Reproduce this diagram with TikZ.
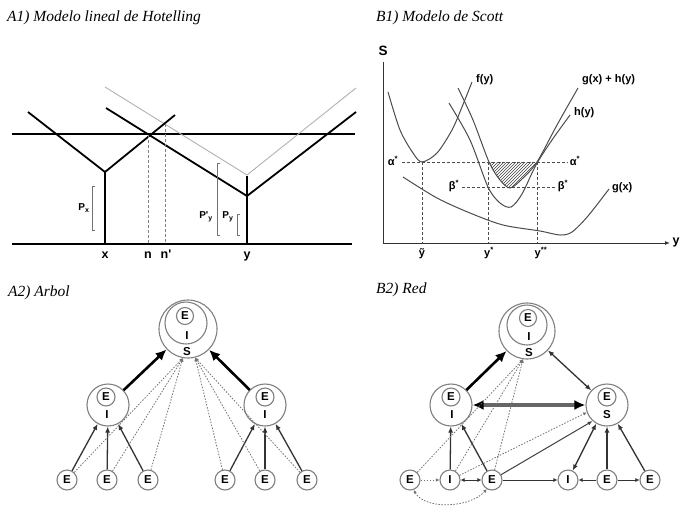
\documentclass[tikz,border=0pt]{standalone}
\usepackage{fontspec}
\setmainfont{Liberation Serif}
\newfontfamily\lsans{Liberation Sans}
\usetikzlibrary{arrows.meta,patterns}
\begin{document}
\begin{tikzpicture}[x=1pt,y=-1pt,
  title/.style={anchor=base west, inner sep=0, font=\fontsize{15.5}{18}\selectfont\itshape},
  lbl/.style={inner sep=0, font=\lsans\bfseries\fontsize{11}{12}\selectfont},
  axlbl/.style={inner sep=0, font=\lsans\bfseries\fontsize{12.5}{13}\selectfont},
  plbl/.style={inner sep=0, font=\lsans\bfseries\fontsize{10}{11}\selectfont},
  hot/.style={line width=1.8pt, black},
  hotgray/.style={line width=0.9pt, black!30},
  vdash/.style={dash pattern=on 3pt off 2pt, black!50, line width=0.6pt},
  brk/.style={black!55, line width=0.8pt},
  curve/.style={line width=1pt, black!70},
  hdash/.style={dash pattern=on 3pt off 2pt, black!70, line width=0.7pt},
  ring/.style={circle, draw=black!50, line width=1.1pt, inner sep=0},
  enode/.style={circle, draw=black!50, line width=1.1pt, inner sep=0, minimum size=20pt, font=\lsans\bfseries\fontsize{11.5}{12}\selectfont},
  let/.style={inner sep=0, font=\lsans\bfseries\fontsize{11.5}{12}\selectfont},
  bigarrow/.style={line width=2.6pt, black, -{Latex[length=11pt,width=10pt]}},
  midarrow/.style={line width=1.3pt, black!80, -{Latex[length=6pt,width=5pt]}},
  dotarrow/.style={line width=0.8pt, black!55, dash pattern=on 1.5pt off 1.5pt, -{Latex[length=3.5pt,width=3.5pt]}},
]
\useasboundingbox (0,0) rectangle (680,507);
\fill[white] (0,0) rectangle (680,507);

% ---------------- A1 ----------------
\node[title] (tA1) at (7,21) {A1) Modelo lineal de Hotelling};
\draw[hot] (12,134) -- (355,134);
\draw[hot, line width=2.2pt] (12,244) -- (352,244);
\draw[hotgray] (105,87) -- (247,175) -- (356,88);
\draw[hot] (28,112) -- (105,172) -- (175,115);
\draw[hot] (105,172) -- (105,244);
\draw[hot] (106,108) -- (247,196) -- (356,112);
\draw[hot, line width=2.2pt] (247,176) -- (247,244);
\draw[vdash] (148,135) -- (148,244);
\draw[vdash] (165,124) -- (165,244);
\draw[brk] (95,186) -- (92,186) -- (92,230) -- (95,230);
\draw[brk] (220,163) -- (217,163) -- (217,235) -- (220,235);
\draw[brk] (240,214) -- (237,214) -- (237,235) -- (240,235);
\node[plbl] (px) at (84,208) {P\textsubscript{x}};
\node[plbl] (ppy) at (206,217) {P'\textsubscript{y}};
\node[plbl] (py) at (228,217) {P\textsubscript{y}};
\node[axlbl, anchor=base] (lx) at (105,258) {x};
\node[axlbl, anchor=base] (ln) at (148,258) {n};
\node[axlbl, anchor=base] (lnp) at (166,258) {n'};
\node[axlbl, anchor=base] (ly) at (247,258) {y};

% ---------------- B1 ----------------
\node[title] (tB1) at (376,21) {B1) Modelo de Scott};
\begin{scope}
  \clip (485,162) rectangle (545,196);
  \fill[pattern=north east lines, pattern color=black!75]
    plot[smooth] coordinates {(458,88) (473,120) (489,162) (500,180) (510,188) (522,179) (537,162) (557,125) (578,88)} -- (578,60) -- (458,60) -- cycle;
\end{scope}
\draw[hdash] (402,162) -- (568,162);
\draw[hdash] (462,187) -- (556,187);
\draw[hdash] (422,162) -- (422,243);
\draw[hdash] (488,162) -- (488,243);
\draw[hdash] (537,162) -- (537,243);
\draw[line width=1pt, black!80] (383,62) -- (383,243);
\draw[line width=1pt, black!80, -{Latex[length=5pt,width=4pt]}] (383,243) -- (670,243);
% f(y)
\draw[curve] plot[smooth] coordinates {(388,92) (400,130) (413,153) (422,162) (437,153) (452,130) (462,107) (472,82)};
% h(y)
\draw[curve] plot[smooth] coordinates {(449,103) (470,140) (488,187) (500,203) (511,207) (522,194) (536,165) (552,140) (570,115)};
% g(x)+h(y)
\draw[curve] plot[smooth] coordinates {(458,88) (473,120) (489,162) (500,180) (510,188) (522,179) (537,162) (557,125) (578,88)};
% g(x)
\draw[curve] plot[smooth] coordinates {(403,177) (437,198) (470,213) (503,225) (540,231) (560,235) (572,232) (588,216) (609,189)};
\node[axlbl, font=\lsans\bfseries\fontsize{13.5}{14}\selectfont] (lS) at (383,51) {S};
\node[axlbl] (lyax) at (676,242) {y};
\node[lbl, anchor=west] (lf) at (476,80) {f(y)};
\node[lbl, anchor=west] (lgh) at (582,80) {g(x) + h(y)};
\node[lbl, anchor=west] (lh) at (574,113) {h(y)};
\node[lbl, anchor=west] (lg) at (612,188) {g(x)};
\node[lbl] (la1) at (393,161) {α\textsuperscript{*}};
\node[lbl] (la2) at (575,161) {α\textsuperscript{*}};
\node[lbl] (lb1) at (454,186) {β\textsuperscript{*}};
\node[lbl] (lb2) at (563,186) {β\textsuperscript{*}};
\node[lbl, anchor=base] (lyt) at (422,256) {ỹ};
\node[lbl, anchor=base] (lys) at (489,256) {y\textsuperscript{*}};
\node[lbl, anchor=base] (lyss) at (541,256) {y\textsuperscript{**}};

% ---------------- A2 ----------------
\node[title] (tA2) at (8,296) {A2) Arbol};
\node[ring, minimum size=58pt] (ATo) at (188,329) {};
\node[ring, minimum size=42pt] (ATm) at (186,323) {};
\node[enode, minimum size=17pt] (ATe) at (185,316) {E};
\node[let] (ATi) at (187,336) {I};
\node[let] (ATs) at (187,352) {S};
\node[ring, minimum size=42pt] (AL) at (108,405) {};
\node[enode, minimum size=18pt] (ALe) at (106,397) {E};
\node[let] (ALi) at (107,415) {I};
\node[ring, minimum size=42pt] (AR) at (265,405) {};
\node[enode, minimum size=18pt] (ARe) at (265,397) {E};
\node[let] (ARi) at (265,415) {I};
\node[enode] (A1) at (67,480) {E};
\node[enode] (A2) at (107,480) {E};
\node[enode] (A3) at (148,480) {E};
\node[enode] (A4) at (225,480) {E};
\node[enode] (A5) at (265,480) {E};
\node[enode] (A6) at (307,480) {E};
\draw[bigarrow] (AL) -- (ATo);
\draw[bigarrow] (AR) -- (ATo);
\draw[midarrow] (A1) -- (AL);
\draw[midarrow] (A2) -- (AL);
\draw[midarrow] (A3) -- (AL);
\draw[midarrow] (A4) -- (AR);
\draw[midarrow] (A5) -- (AR);
\draw[midarrow] (A6) -- (AR);
\draw[dotarrow] (A1) -- (ATo.260);
\draw[dotarrow] (A2) -- (ATo.260);
\draw[dotarrow] (A3) -- (ATo.260);
\draw[dotarrow] (A4) -- (ATo.284);
\draw[dotarrow] (A5) -- (ATo.284);
\draw[dotarrow] (A6) -- (ATo.284);

% ---------------- B2 ----------------
\node[title] (tB2) at (376,293) {B2) Red};
\node[ring, minimum size=56pt] (BTo) at (527,331) {};
\node[ring, minimum size=40pt] (BTm) at (527,325) {};
\node[enode, minimum size=17pt] (BTe) at (528,318) {E};
\node[let] (BTi) at (529,337) {I};
\node[let] (BTs) at (529,353) {S};
\node[ring, minimum size=42pt] (BL) at (451,405) {};
\node[enode, minimum size=18pt] (BLe) at (451,397) {E};
\node[let] (BLi) at (452,415) {I};
\node[ring, minimum size=42pt] (BR) at (607,405) {};
\node[enode, minimum size=18pt] (BRe) at (607,397) {E};
\node[let] (BRs) at (607,415) {S};
\node[enode] (B1) at (410,480) {E};
\node[enode] (B2) at (450,480) {I};
\node[enode] (B3) at (492,480) {E};
\node[enode] (B4) at (568,480) {I};
\node[enode] (B5) at (607,480) {E};
\node[enode] (B6) at (650,480) {E};
\draw[bigarrow] (BL) -- (BTo);
\draw[line width=1.3pt, black!80, {Latex[length=6pt,width=5pt]}-{Latex[length=6pt,width=5pt]}] (BTo) -- (BR);
\draw[line width=4.5pt, black!60, {Latex[length=11pt,width=10pt,fill=black,color=black]}-{Latex[length=11pt,width=10pt,fill=black,color=black]}] (BL.east) -- (BR.west);
\draw[midarrow] (B2) -- (BL);
\draw[midarrow] (B3) -- (BL);
\draw[dotarrow] (B1) -- (B2);
\draw[line width=1pt, black!80, {Latex[length=4pt,width=4pt]}-{Latex[length=4pt,width=4pt]}] (B2) -- (B3);
\draw[line width=1pt, black!80, -{Latex[length=4pt,width=4pt]}] (B3) -- (B4);
\draw[line width=1pt, black!80, -{Latex[length=4pt,width=4pt]}] (B5) -- (B4);
\draw[line width=1pt, black!80, -{Latex[length=4pt,width=4pt]}] (B5) -- (B6);
\draw[line width=1pt, black!75, -{Latex[length=5pt,width=4pt]}] (B3) -- (BR.228);
\draw[dotarrow] (B2) -- (BR.200);
\draw[line width=1.3pt, black!80, {Latex[length=6pt,width=5pt]}-{Latex[length=6pt,width=5pt]}] (B4) -- (BR.240);
\draw[midarrow] (B5) -- (BR);
\draw[midarrow] (B6) -- (BR);
\draw[dotarrow] (B1) -- (BTo.262);
\draw[dotarrow] (B2) -- (BTo.262);
\draw[dotarrow] (B3) -- (BTo.262);
\draw[dotarrow, {Latex[length=3.5pt,width=3.5pt]}-{Latex[length=3.5pt,width=3.5pt]}] (B1.290) .. controls (425,510) and (470,508) .. (B3.240);
\end{tikzpicture}
\end{document}
